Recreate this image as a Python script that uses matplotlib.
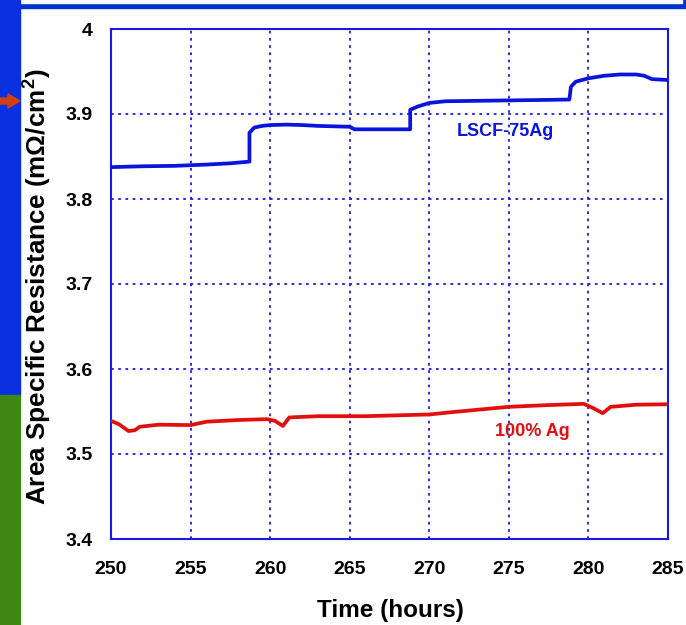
import matplotlib.pyplot as plt
from matplotlib.patches import Rectangle, FancyArrow

# Digitised readings (hours, m-ohm/cm2)
lscf_hours = [250, 252, 254, 256, 257.5, 258.7, 258.7, 259.0, 259.5, 260, 261, 262,
              263, 264, 265, 265.3, 268.8, 268.8, 269.3, 270, 271, 273, 275, 277,
              278.8, 278.9, 279.2, 280, 281, 282, 283, 283.5, 284, 285]
lscf_asr = [3.8375, 3.8385, 3.839, 3.8405, 3.842, 3.844, 3.878, 3.884, 3.886, 3.887,
            3.8875, 3.887, 3.886, 3.8855, 3.885, 3.882, 3.882, 3.905, 3.909, 3.913,
            3.915, 3.9155, 3.916, 3.9165, 3.917, 3.932, 3.938, 3.942, 3.945, 3.9465,
            3.9465, 3.945, 3.941, 3.940]

ag_hours = [250, 250.5, 251.1, 251.5, 251.8, 253, 255, 255.5, 256, 258, 259.8, 260.3,
            260.8, 261.2, 263, 266, 268, 270, 271.3, 273, 275, 277.4, 279.7, 280.3,
            280.9, 281.4, 283, 285]
ag_asr = [3.539, 3.535, 3.527, 3.528, 3.532, 3.5345, 3.534, 3.536, 3.538, 3.540,
          3.541, 3.539, 3.533, 3.543, 3.5445, 3.5445, 3.5455, 3.5465, 3.549, 3.552,
          3.5555, 3.5575, 3.559, 3.554, 3.548, 3.5555, 3.558, 3.5585]

x_ticks = [250, 255, 260, 265, 270, 275, 280, 285]
y_ticks = [3.4, 3.5, 3.6, 3.7, 3.8, 3.9, 4.0]
y_tick_labels = ["3.4", "3.5", "3.6", "3.7", "3.8", "3.9", "4"]

plt.rcParams["font.family"] = ["Liberation Sans", "DejaVu Sans"]
plt.rcParams["mathtext.fontset"] = "custom"
plt.rcParams["mathtext.rm"] = "Liberation Sans:bold"
plt.rcParams["mathtext.it"] = "Liberation Sans:bold"
plt.rcParams["mathtext.bf"] = "Liberation Sans:bold"

W, H = 686, 625
fig = plt.figure(figsize=(W / 100, H / 100), dpi=100)


def px_rect(x0, y0, x1, y1, color):
    # rectangle in pixel coords measured from top-left
    fig.patches.append(Rectangle((x0 / W, 1 - y1 / H), (x1 - x0) / W, (y1 - y0) / H,
                                 transform=fig.transFigure, color=color, zorder=0))


# slide decoration around the chart
px_rect(0, 0, W, 8, "#0033cc")
px_rect(17, 0, 682, 3, "white")
px_rect(0, 0, 20, 395, "#0a30e0")
px_rect(0, 395, 20, H, "#3e8712")
fig.patches.append(FancyArrow(0 / W, 1 - 101 / H, 8 / W, 0, width=6 / H,
                              head_width=14 / H, head_length=12 / W,
                              length_includes_head=False, color="#d04010",
                              transform=fig.transFigure, zorder=1))

ax = fig.add_axes([111 / W, (H - 539) / H, 557 / W, 510 / H])
grid_color = "#1a1ae6"

ax.plot(lscf_hours, lscf_asr, color="#0a14dc", lw=2.7, zorder=3)
ax.plot(ag_hours, ag_asr, color="#e01010", lw=2.7, zorder=3)

ax.text(274.8, 3.879, "LSCF-75Ag", color="#0a14dc", fontsize=13, fontweight="bold",
        ha="center", va="center")
ax.text(276.5, 3.527, "100% Ag", color="#e01010", fontsize=13, fontweight="bold",
        ha="center", va="center")

ax.set_xlim(250, 285)
ax.set_ylim(3.4, 4.0)
ax.set_xticks(x_ticks)
ax.set_xticklabels([str(t) for t in x_ticks])
ax.set_yticks(y_ticks)
ax.set_yticklabels(y_tick_labels)
ax.tick_params(length=0, labelsize=14)
ax.tick_params(axis="x", pad=16)
ax.tick_params(axis="y", pad=13)
for lab in ax.get_xticklabels() + ax.get_yticklabels():
    lab.set_fontweight("bold")

ax.grid(True, color=grid_color, linestyle=(0, (1.5, 2.5)), linewidth=1.3)
for spine in ax.spines.values():
    spine.set_color(grid_color)
    spine.set_linewidth(1.5)

fig.text(390 / W, 1 - 617 / H, "Time (hours)", fontsize=17.5, fontweight="bold",
         ha="center", va="baseline")
fig.text(38 / W, 1 - 287 / H, r"Area Specific Resistance (m$\Omega$/cm$^{2}$)",
         fontsize=18.8, fontweight="bold", rotation=90, ha="center", va="center")

fig.savefig("out.png", dpi=100)
